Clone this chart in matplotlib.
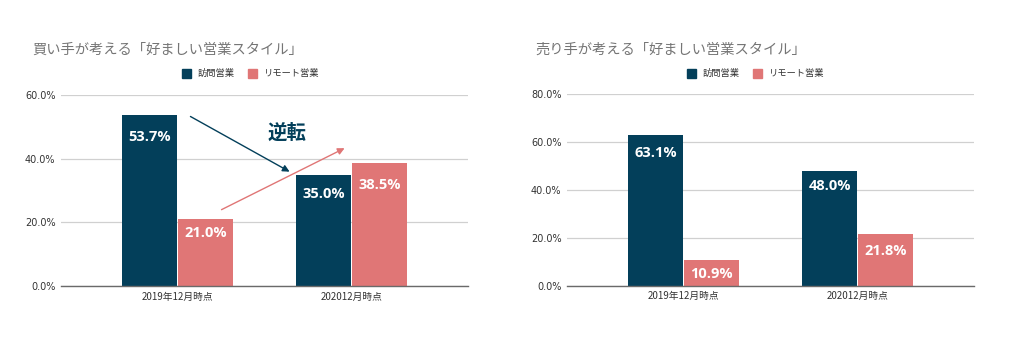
import matplotlib
matplotlib.use("Agg")
import matplotlib.pyplot as plt
import numpy as np

plt.rcParams['font.family'] = ['Noto Sans CJK JP', 'DejaVu Sans']

categories = ["2019年12月時点", "202012月時点"]
series_names = ["訪問営業", "リモート営業"]
buyer_visit = [53.7, 35.0]
buyer_remote = [21.0, 38.5]
seller_visit = [63.1, 48.0]
seller_remote = [10.9, 21.8]
buyer_title = "買い手が考える「好ましい営業スタイル」"
seller_title = "売り手が考える「好ましい営業スタイル」"
buyer_yticks = [0, 20, 40, 60]
seller_yticks = [0, 20, 40, 60, 80]

# label offsets below bar top (pixels) -- style only
buyer_offsets = ([22, 19], [14, 22])
seller_offsets = ([18, 15], [14, 17])

DARK = "#033f5a"
PINK = "#e07676"
TXT = "#333333"

fig = plt.figure(figsize=(10.34, 3.47), dpi=100)

def draw(ax, visit, remote, yticks, title, title_x, legend_x, offsets):
    x = np.arange(len(categories))
    w = 0.316
    b1 = ax.bar(x - w/2 - 0.002, visit, width=w, color=DARK, zorder=3)
    b2 = ax.bar(x + w/2 + 0.002, remote, width=w, color=PINK, zorder=3)
    ax.set_xlim(-0.668, 1.668)
    ax.set_ylim(0, yticks[-1])
    ax.set_yticks(yticks)
    ax.set_yticklabels([f"{v:.1f}%" for v in yticks], fontsize=7, color=TXT,
                       family=['DejaVu Sans'])
    ax.set_xticks(x)
    ax.set_xticklabels(categories, fontsize=7, color=TXT)
    ax.tick_params(axis='both', length=0, pad=4)
    ax.grid(axis='y', color='#d0d0d0', linewidth=0.9, zorder=0)
    for s in ['top', 'right', 'left']:
        ax.spines[s].set_visible(False)
    ax.spines['bottom'].set_color('#6a6a6a')
    ax.spines['bottom'].set_linewidth(1.0)
    ax.spines['bottom'].set_zorder(4)
    for bars, vals, offs in ((b1, visit, offsets[0]), (b2, remote, offsets[1])):
        for r, v, o in zip(bars, vals, offs):
            ax.annotate(f"{v:.1f}%", (r.get_x() + r.get_width()/2, v),
                        xytext=(0, -o * 0.72), textcoords='offset points',
                        ha='center', va='center', color='white',
                        fontsize=10.5, fontweight='bold', family=['Open Sans'],
                        zorder=5)
    fig.text(title_x, 0.856, title, fontsize=10.3, color='#757575', va='center', ha='left')
    # legend
    ly = 0.787
    sw, sh = 9 / 1034, 9 / 347
    fig.patches.append(matplotlib.patches.Rectangle((legend_x, ly - sh/2), sw, sh,
                       transform=fig.transFigure, color=DARK, figure=fig))
    fig.text(legend_x + 16/1034, ly, series_names[0], fontsize=6.7, color=TXT, va='center')
    fig.patches.append(matplotlib.patches.Rectangle((legend_x + 66/1034, ly - sh/2), sw, sh,
                       transform=fig.transFigure, color=PINK, figure=fig))
    fig.text(legend_x + 82/1034, ly, series_names[1], fontsize=6.7, color=TXT, va='center')

ax1 = fig.add_axes([0.059, 0.1758, 0.3936, 0.5502])
draw(ax1, buyer_visit, buyer_remote, buyer_yticks, buyer_title, 0.031, 182/1034, buyer_offsets)
ax2 = fig.add_axes([0.5484, 0.1767, 0.3936, 0.5515])
draw(ax2, seller_visit, seller_remote, seller_yticks, seller_title, 0.518, 687/1034, seller_offsets)

# annotation: reversal arrows
ax1.annotate("", xy=(0.658, 35.5), xytext=(0.061, 53.7),
             arrowprops=dict(arrowstyle='-|>', color=DARK, lw=1.0, mutation_scale=10), zorder=6)
ax1.annotate("", xy=(0.974, 43.7), xytext=(0.239, 23.6),
             arrowprops=dict(arrowstyle='-|>', color=PINK, lw=1.0, mutation_scale=10), zorder=6)
ax1.text(0.629, 48.1, "逆転", fontsize=14, fontweight='bold', color=DARK,
         ha='center', va='center', zorder=6)

fig.savefig("out.png", dpi=100)
